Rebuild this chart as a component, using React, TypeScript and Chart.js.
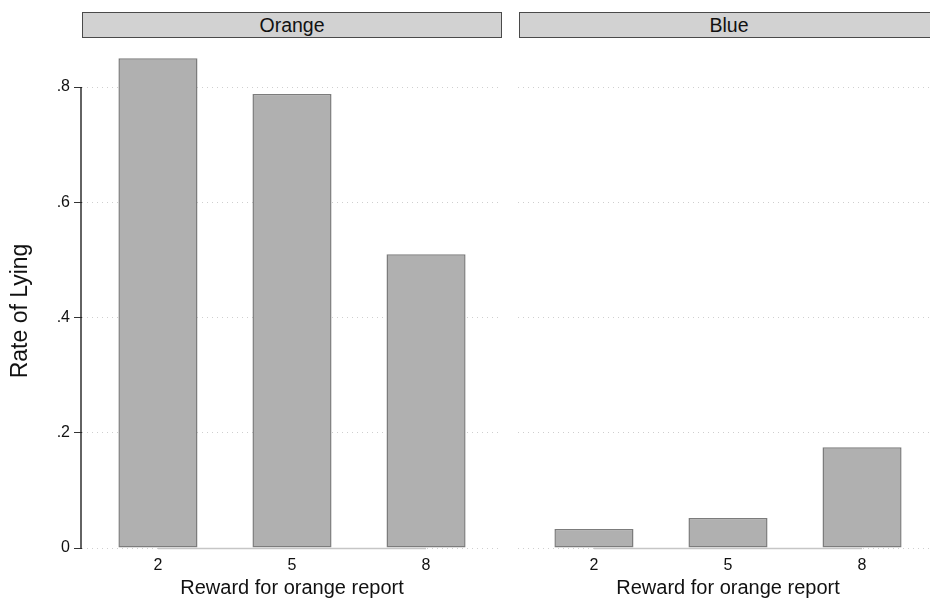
import React, { useEffect, useRef } from "react";
import { Chart, registerables } from "chart.js";

Chart.register(...registerables);

const rewards = [2, 5, 8];
const orangeRates = [0.85, 0.788, 0.51];
const blueRates = [0.033, 0.052, 0.175];
const yTicks = [0, 0.2, 0.4, 0.6, 0.8];
const panelTitles = ["Orange", "Blue"];
const yTitle = "Rate of Lying";
const xTitle = "Reward for orange report";

const FONT = 'Arial, "Liberation Sans", Helvetica, sans-serif';

const fmtY = (v: number) => (v === 0 ? "0" : String(v).replace(/^0/, ""));

const stataAxes = (isLeft: boolean) => ({
  id: "stataAxes",
  afterDraw(chart: any) {
    const { ctx, scales } = chart;
    const x = scales.x;
    const y = scales.y;
    const y0 = Math.round(y.getPixelForValue(0)) + 0.5;
    ctx.save();
    ctx.strokeStyle = "#c6c6c6";
    ctx.lineWidth = 1.5;
    ctx.beginPath();
    ctx.moveTo(x.getPixelForValue(rewards[0]), y0);
    ctx.lineTo(x.getPixelForValue(rewards[rewards.length - 1]), y0);
    ctx.stroke();
    if (isLeft) {
      const xl = Math.round(chart.chartArea.left) - 1;
      ctx.strokeStyle = "#222";
      ctx.lineWidth = 1.4;
      ctx.beginPath();
      ctx.moveTo(xl, Math.round(y.getPixelForValue(yTicks[yTicks.length - 1])));
      ctx.lineTo(xl, y0);
      ctx.stroke();
      ctx.translate(21, 311);
      ctx.rotate(-Math.PI / 2);
      ctx.fillStyle = "#111";
      ctx.font = `23px ${FONT}`;
      ctx.textAlign = "center";
      ctx.textBaseline = "middle";
      ctx.fillText(yTitle, 0, 0);
    }
    ctx.restore();
  },
});

function makeConfig(values: number[], isLeft: boolean): any {
  return {
    type: "bar",
    data: {
      datasets: [
        {
          data: rewards.map((r, i) => ({ x: r, y: values[i] })),
          backgroundColor: "#b0b0b0",
          borderColor: "#7c7c7c",
          borderWidth: 1.5,
          borderSkipped: false,
          barPercentage: 0.59,
          categoryPercentage: 1,
        },
      ],
    },
    options: {
      animation: false,
      responsive: false,
      maintainAspectRatio: false,
      layout: { padding: { top: 45, right: isLeft ? 8 : 12, left: isLeft ? 0 : 8, bottom: 0 } },
      plugins: { legend: { display: false }, tooltip: { enabled: false } },
      scales: {
        x: {
          type: "linear",
          offset: false,
          min: 0.3,
          max: 9.7,
          afterBuildTicks: (s: any) => {
            s.ticks = rewards.map((v) => ({ value: v }));
          },
          afterFit: (s: any) => {
            s.height = 52;
          },
          grid: { display: false, drawTicks: false, offset: false },
          border: { display: false },
          ticks: {
            font: { family: FONT, size: 16 },
            color: "#111",
            padding: 8,
            autoSkip: false,
            maxRotation: 0,
            callback: (v: any) => String(v),
          },
          title: {
            display: true,
            text: xTitle,
            font: { family: FONT, size: 20 },
            color: "#111",
            padding: 0,
          },
        },
        y: {
          type: "linear",
          min: 0,
          max: 0.873,
          afterBuildTicks: (s: any) => {
            s.ticks = yTicks.map((v) => ({ value: v }));
          },
          afterFit: (s: any) => {
            s.width = isLeft ? 82 : 0;
          },
          grid: {
            color: "#cfcfcf",
            lineWidth: 1,
            drawTicks: isLeft,
            tickLength: 8,
            tickColor: "#333",
            tickWidth: 1,
            tickBorderDash: [],
          },
          border: { display: false, dash: [1, 4] },
          ticks: {
            display: isLeft,
            font: { family: FONT, size: 16 },
            color: "#111",
            padding: 4,
            callback: (v: any) => fmtY(Number(v)),
          },
        },
      },
    },
    plugins: [stataAxes(isLeft)],
  };
}

function Panel({ values, isLeft, left, width }: { values: number[]; isLeft: boolean; left: number; width: number }) {
  const ref = useRef<HTMLCanvasElement | null>(null);
  useEffect(() => {
    if (!ref.current) return;
    const chart = new Chart(ref.current, makeConfig(values, isLeft));
    return () => chart.destroy();
  }, [values, isLeft]);
  return (
    <canvas
      ref={ref}
      width={width}
      height={600}
      style={{ position: "absolute", left, top: 0, width, height: 600 }}
    />
  );
}

const stripStyle: React.CSSProperties = {
  position: "absolute",
  top: 12,
  height: 26,
  boxSizing: "border-box",
  background: "#d2d2d2",
  border: "1px solid #4a4a4a",
  fontFamily: FONT,
  fontSize: 19.5,
  color: "#111",
  textAlign: "center",
  lineHeight: "24px",
};

export default function App() {
  return (
    <div
      style={{
        position: "fixed",
        left: 0,
        top: 0,
        width: 930,
        height: 600,
        overflow: "hidden",
        background: "#fff",
      }}
    >
      <Panel values={orangeRates} isLeft={true} left={0} width={510} />
      <Panel values={blueRates} isLeft={false} left={510} width={440} />
      <div style={{ ...stripStyle, left: 82, width: 420 }}>{panelTitles[0]}</div>
      <div style={{ ...stripStyle, left: 519, width: 420 }}>{panelTitles[1]}</div>
    </div>
  );
}
